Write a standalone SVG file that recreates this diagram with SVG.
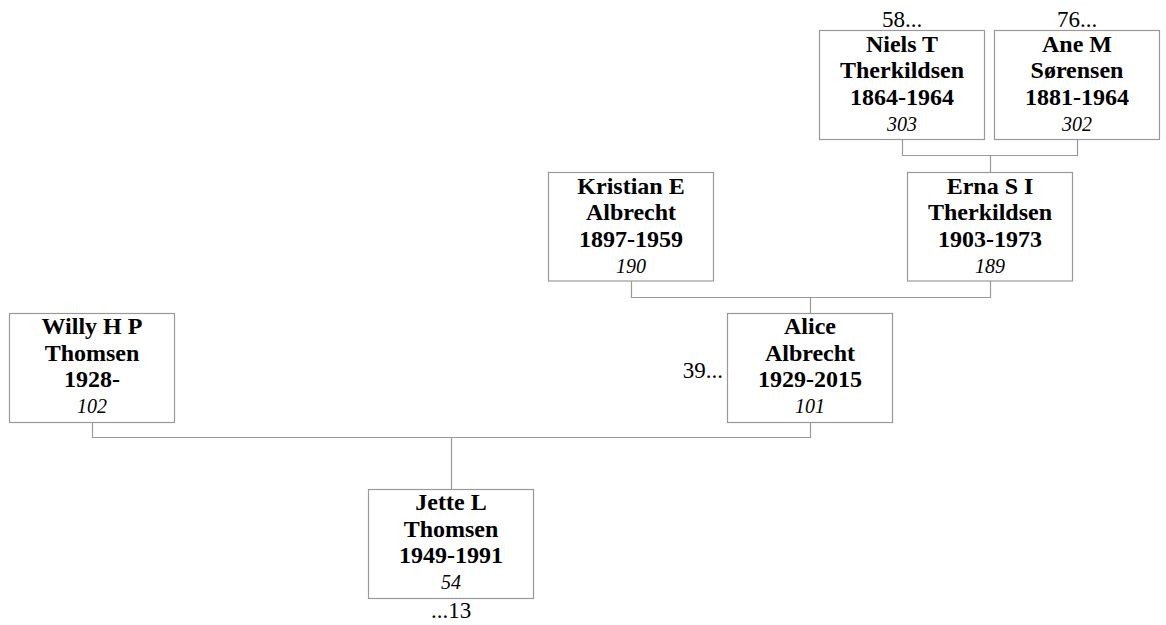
<svg xmlns="http://www.w3.org/2000/svg" width="1166" height="625" viewBox="0 0 1166 625">
<style>
  .box { fill: #fff; stroke: #999; stroke-width: 1.2; }
  .conn { fill: none; stroke: #999; stroke-width: 1.2; }
  text { font-family: "Liberation Serif", "Times New Roman", serif; fill: #000; text-anchor: middle; }
  .nm { font-size: 24px; font-weight: bold; }
  .id { font-size: 20px; font-style: italic; }
  .more { font-size: 23px; }
</style>
<rect width="1166" height="625" fill="#fff"/>
<g id="connectors">
  <path class="conn" d="M902.5,139.5 V155.5 H1077.5 V139.5 M990.5,155.5 V172.5"/>
  <path class="conn" d="M631.5,281 V297.5 H990.5 V281 M810.5,297.5 V313.5"/>
  <path class="conn" d="M92.5,422.5 V437.5 H810.5 V422.5 M451.5,437.5 V489.5"/>
</g>
<g id="niels">
  <rect class="box" x="819.5" y="30.5" width="165" height="109"/>
  <text class="more" x="902" y="26.5">58...</text>
  <text class="nm" x="902" y="51.5">Niels T</text>
  <text class="nm" x="902" y="78">Therkildsen</text>
  <text class="nm" x="902" y="104.5">1864-1964</text>
  <text class="id" x="902" y="130.5">303</text>
</g>
<g id="ane">
  <rect class="box" x="994.5" y="30.5" width="165" height="109"/>
  <text class="more" x="1077" y="26.5">76...</text>
  <text class="nm" x="1077" y="51.5">Ane M</text>
  <text class="nm" x="1077" y="78">Sørensen</text>
  <text class="nm" x="1077" y="104.5">1881-1964</text>
  <text class="id" x="1077" y="130.5">302</text>
</g>
<g id="kristian">
  <rect class="box" x="548.5" y="172.5" width="165" height="108.5"/>
  <text class="nm" x="631" y="193.5">Kristian E</text>
  <text class="nm" x="631" y="220">Albrecht</text>
  <text class="nm" x="631" y="246.5">1897-1959</text>
  <text class="id" x="631" y="272.5">190</text>
</g>
<g id="erna">
  <rect class="box" x="907.5" y="172.5" width="165" height="108.5"/>
  <text class="nm" x="990" y="193.5">Erna S I</text>
  <text class="nm" x="990" y="220">Therkildsen</text>
  <text class="nm" x="990" y="246.5">1903-1973</text>
  <text class="id" x="990" y="272.5">189</text>
</g>
<g id="willy">
  <rect class="box" x="9.5" y="313.5" width="165" height="109"/>
  <text class="nm" x="92" y="334">Willy H P</text>
  <text class="nm" x="92" y="360.5">Thomsen</text>
  <text class="nm" x="92" y="387">1928-</text>
  <text class="id" x="92" y="413">102</text>
</g>
<g id="alice">
  <rect class="box" x="727.5" y="313.5" width="165" height="109"/>
  <text class="more" x="723" y="378" style="text-anchor:end">39...</text>
  <text class="nm" x="810" y="334">Alice</text>
  <text class="nm" x="810" y="360.5">Albrecht</text>
  <text class="nm" x="810" y="387">1929-2015</text>
  <text class="id" x="810" y="413">101</text>
</g>
<g id="jette">
  <rect class="box" x="368.5" y="489.5" width="165" height="109"/>
  <text class="nm" x="451" y="510">Jette L</text>
  <text class="nm" x="451" y="536.5">Thomsen</text>
  <text class="nm" x="451" y="563">1949-1991</text>
  <text class="id" x="451" y="589">54</text>
  <text class="more" x="451" y="618">...13</text>
</g>
</svg>
